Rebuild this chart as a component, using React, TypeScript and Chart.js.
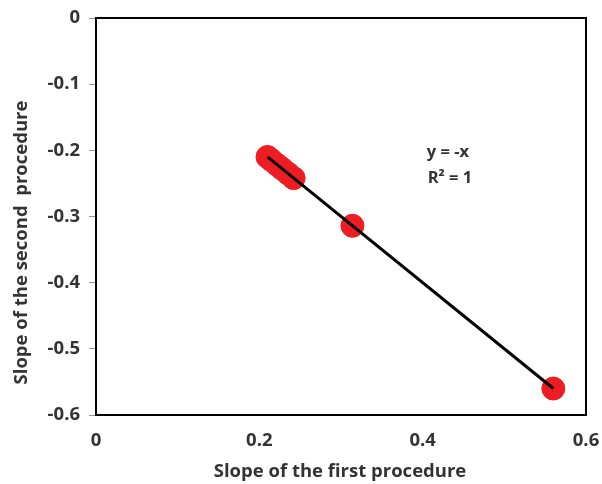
import React, { useEffect, useRef } from "react";
import { Chart, registerables } from "chart.js";

Chart.register(...registerables);

const firstSlopes = [0.21, 0.215, 0.222, 0.228, 0.235, 0.242, 0.314, 0.56];
const secondSlopes = [-0.21, -0.215, -0.222, -0.228, -0.235, -0.242, -0.314, -0.56];
const xTicks = [0, 0.2, 0.4, 0.6];
const yTicks = [0, -0.1, -0.2, -0.3, -0.4, -0.5, -0.6];
const equationLines = ["y = -x", "R\u00B2 = 1"];
const xTitle = "Slope of the first procedure";
const yTitle = "Slope of the second  procedure";

const FONT = "'Open Sans', Lato, sans-serif";
const TEXT = "#333333";

export default function App() {
  const ref = useRef<HTMLCanvasElement | null>(null);
  useEffect(() => {
    if (!ref.current) return;
    const pts = firstSlopes.map((x, i) => ({ x, y: secondSlopes[i] }));
    const xmin = Math.min(...firstSlopes);
    const xmax = Math.max(...firstSlopes);
    const trend = [
      { x: xmin, y: -xmin },
      { x: xmax, y: -xmax },
    ];
    const boxPlugin = {
      id: "box",
      afterDatasetsDraw(chart: any) {
        const { ctx, chartArea: a, scales } = chart;
        ctx.save();
        ctx.strokeStyle = "#000";
        ctx.lineWidth = 2;
        ctx.strokeRect(a.left, a.top, a.right - a.left, a.bottom - a.top);
        ctx.fillStyle = TEXT;
        ctx.font = `bold 16.5px ${FONT}`;
        ctx.textAlign = "center";
        ctx.textBaseline = "middle";
        const cx = scales.x.getPixelForValue(0.431);
        const y1 = scales.y.getPixelForValue(-0.203);
        const y2 = scales.y.getPixelForValue(-0.243);
        ctx.fillText(equationLines[0], cx, y1);
        ctx.fillText(equationLines[1], cx + 2, y2);
        // axis titles
        ctx.font = `bold 18.5px ${FONT}`;
        ctx.fillText(xTitle, (a.left + a.right) / 2 - 1, 472);
        ctx.translate(22, (a.top + a.bottom) / 2 + 26);
        ctx.rotate(-Math.PI / 2);
        ctx.fillText(yTitle, 0, 0);
        ctx.restore();
      },
    };
    const chart = new Chart(ref.current, {
      type: "scatter",
      data: {
        datasets: [
          {
            type: "scatter",
            data: pts,
            backgroundColor: "#ee1d23",
            borderColor: "#ee1d23",
            pointRadius: 11.5,
            pointHoverRadius: 11.5,
            order: 2,
          },
          {
            type: "line",
            data: trend,
            borderColor: "#000",
            borderWidth: 3,
            pointRadius: 0,
            fill: false,
            order: 1,
          } as any,
        ],
      },
      options: {
        animation: false,
        responsive: false,
        layout: { padding: { top: 18, right: 16, left: 0, bottom: 0 } },
        plugins: { legend: { display: false }, tooltip: { enabled: false } },
        scales: {
          x: {
            type: "linear",
            min: 0,
            max: 0.6,
            afterBuildTicks: (s: any) => {
              s.ticks = xTicks.map((v) => ({ value: v }));
            },
            afterFit: (s: any) => {
              s.height = 69;
              s.paddingRight = 0;
              s.paddingLeft = 0;
            },
            grid: { display: false, drawTicks: false },
            border: { display: true, color: "#000", width: 2 },
            ticks: {
              padding: 15,
              color: TEXT,
              font: { family: FONT, size: 18.5, weight: "bold" },
              callback: (v: any) => String(v),
              maxRotation: 0,
            },
            title: { display: false },
          },
          y: {
            type: "linear",
            min: -0.6,
            max: 0,
            afterBuildTicks: (s: any) => {
              s.ticks = yTicks.map((v) => ({ value: v }));
            },
            afterFit: (s: any) => {
              s.width = 96;
              s.paddingTop = 0;
              s.paddingBottom = 0;
            },
            grid: {
              display: true,
              drawOnChartArea: false,
              drawTicks: true,
              tickLength: 7,
              color: "#999",
            },
            border: { display: true, color: "#000", width: 2 },
            ticks: {
              padding: 9,
              color: TEXT,
              font: { family: FONT, size: 18.5, weight: "bold" },
              callback: (v: any) => String(v),
            },
            title: { display: false },
          },
        },
      },
      plugins: [boxPlugin],
    } as any);
    return () => chart.destroy();
  }, []);
  return (
    <div style={{ position: "fixed", left: 0, top: 0, width: 602, height: 484, background: "#fff" }}>
      <canvas ref={ref} width={602} height={484} style={{ display: "block" }} />
    </div>
  );
}
